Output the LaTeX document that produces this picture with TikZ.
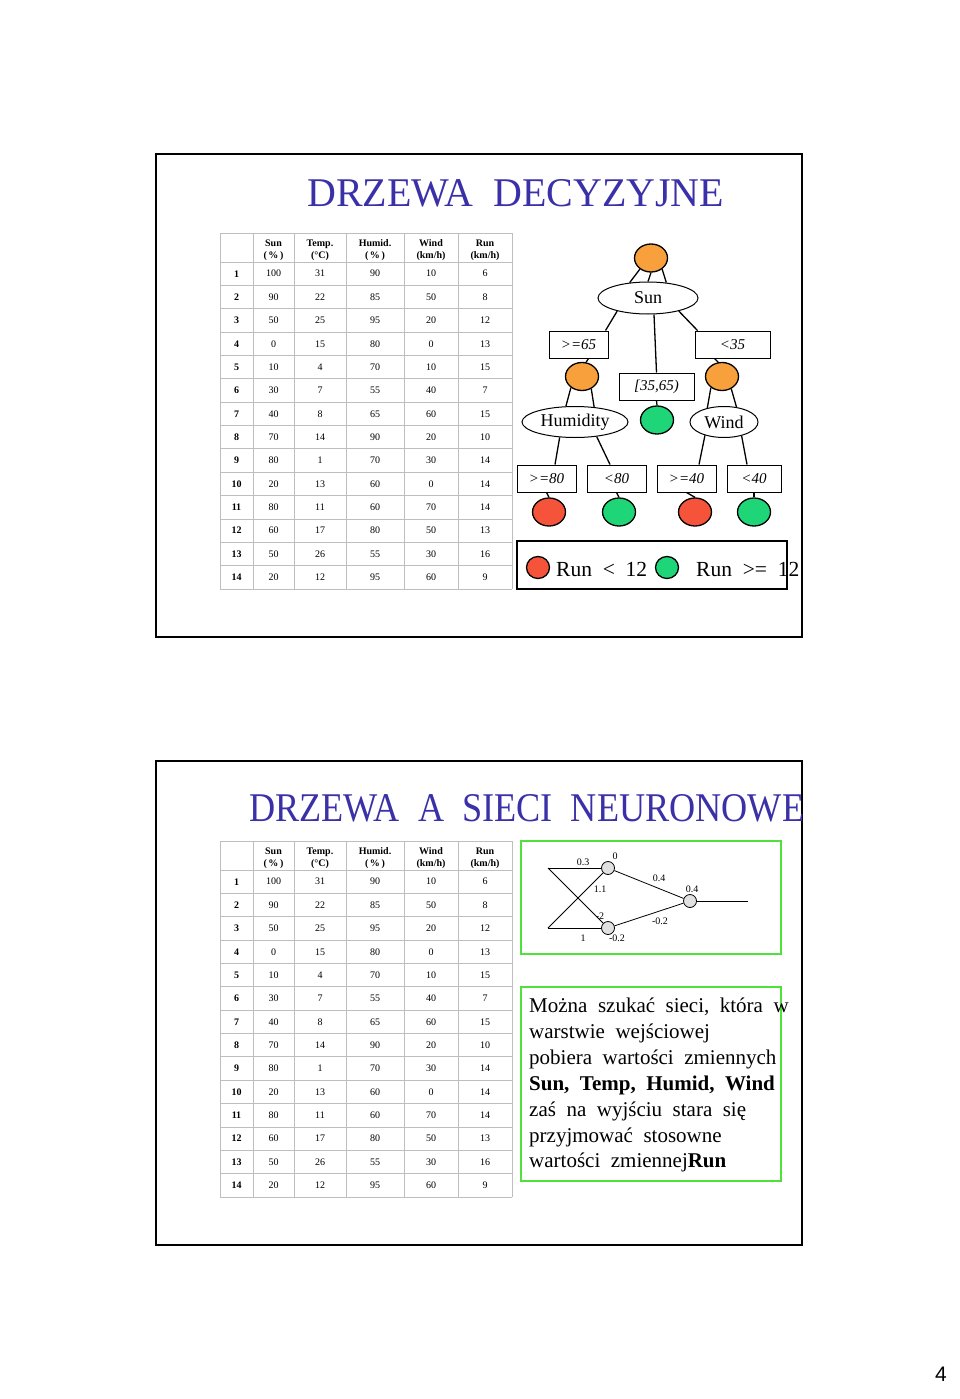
\documentclass[tikz,border=0pt]{standalone}
\usepackage{fontspec}
\setmainfont{Liberation Serif}
\newfontfamily\pagesans{Liberation Sans}
\usetikzlibrary{shapes.geometric}
\definecolor{titleblue}{RGB}{58,48,168}
\definecolor{treeorange}{RGB}{247,160,60}
\definecolor{treegreen}{RGB}{30,214,120}
\definecolor{treered}{RGB}{245,84,58}
\definecolor{boxgreen}{RGB}{80,225,60}
\definecolor{tablegray}{RGB}{190,190,190}
\definecolor{neurongray}{RGB}{225,225,225}
\newcommand\datatable[2]{%
  \draw[tline] (220,{233+#2}) -- (512,{233+#2});
  \foreach \k in {0,...,14} {\draw[tline] (220,{262+23.357*\k+#2}) -- (512,{262+23.357*\k+#2});}
  \foreach \xx in {220,253,294,346,404,458,512} {\draw[tline] (\xx,{233+#2}) -- (\xx,{589+#2});}
  \node[hdr] (#1hsun) at (273.5,{250+#2}) {Sun\\(\,\%\,)};
  \node[hdr] (#1htemp) at (320,{250+#2}) {Temp.\\(°C)};
  \node[hdr] (#1hhum) at (375,{250+#2}) {Humid.\\(\,\%\,)};
  \node[hdr] (#1hwind) at (431,{250+#2}) {Wind\\(km/h)};
  \node[hdr] (#1hrun) at (485,{250+#2}) {Run\\(km/h)};
  \foreach \r/\a/\b/\c/\d/\e in {1/100/31/90/10/6,2/90/22/85/50/8,3/50/25/95/20/12,4/0/15/80/0/13,5/10/4/70/10/15,6/30/7/55/40/7,7/40/8/65/60/15,8/70/14/90/20/10,9/80/1/70/30/14,10/20/13/60/0/14,11/80/11/60/70/14,12/60/17/80/50/13,13/50/26/55/30/16,14/20/12/95/60/9} {
    \pgfmathsetmacro\yy{273.7+23.357*(\r-1)+#2}
    \node[cell,font=\fontsize{10}{12}\selectfont\bfseries] (#1n\r) at (236.5,\yy) {\r};
    \node[cell] (#1a\r) at (273.5,\yy) {\a};
    \node[cell] (#1b\r) at (320,\yy) {\b};
    \node[cell] (#1c\r) at (375,\yy) {\c};
    \node[cell] (#1d\r) at (431,\yy) {\d};
    \node[cell] (#1e\r) at (485,\yy) {\e};
  }%
}
\begin{document}
\begin{tikzpicture}[x=1pt,y=-1pt,
  tline/.style={draw=tablegray,line width=0.8pt},
  hdr/.style={inner sep=0pt,align=center,font=\fontsize{10}{12}\selectfont\bfseries},
  cell/.style={inner sep=0pt,font=\fontsize{10}{12}\selectfont},
  frame/.style={draw=black,line width=2.2pt},
  blob/.style={ellipse,draw=black,line width=1.3pt,minimum width=33pt,minimum height=28pt,inner sep=0pt},
  orangec/.style={blob,fill=treeorange},
  greenc/.style={blob,fill=treegreen},
  redc/.style={blob,fill=treered},
  ell/.style={ellipse,draw=black,line width=1pt,fill=white,inner sep=0pt,font=\fontsize{18}{18}\selectfont},
  lbox/.style={rectangle,draw=black,line width=1pt,fill=white,inner sep=0pt,minimum height=27pt,font=\fontsize{15}{15}\selectfont\itshape},
  tl/.style={line width=1.3pt},
  neuron/.style={circle,draw=black,line width=0.8pt,fill=neurongray,minimum size=13pt,inner sep=0pt},
  nl/.style={line width=0.8pt},
  wlab/.style={inner sep=0pt,font=\fontsize{10}{12}\selectfont},
  gbox/.style={draw=boxgreen,line width=2.5pt},
  txt/.style={inner sep=0pt,anchor=base west,font=\fontsize{21}{26}\selectfont}
]
\useasboundingbox (0,0) rectangle (960,1399);
\fill[white] (0,0) rectangle (960,1399);

% ---------------- slide 1 ----------------
\draw[frame] (156,154) rectangle (802,637);
\node[inner sep=0pt,anchor=base west,text=titleblue] (title1) at (307,207)
  {\resizebox{417pt}{27pt}{\fontsize{41}{41}\selectfont DRZEWA\ \ DECYZYJNE}};
\datatable{ta}{0}

% tree
\node[orangec] (root) at (651,258) {};
\node[ell,minimum width=100pt,minimum height=32pt] (sun) at (648,298) {Sun};
\node[lbox,minimum width=59pt] (b65) at (578.5,344.5) {>=65};
\node[lbox,minimum width=75pt] (b3565) at (656.5,386.5) {[35,65)};
\node[lbox,minimum width=75pt] (b35) at (732.5,344.5) {<35};
\node[orangec] (o1) at (582,376.5) {};
\node[orangec] (o2) at (722,376.5) {};
\node[greenc] (g1) at (657,420) {};
\node[ell,minimum width=106pt,minimum height=31pt] (hum) at (575,422) {Humidity};
\node[ell,minimum width=68pt,minimum height=31pt] (wind) at (724,422) {Wind};
\node[lbox,minimum width=59pt] (b80) at (546.5,478.5) {>=80};
\node[lbox,minimum width=59pt] (bl80) at (616.5,478.5) {<80};
\node[lbox,minimum width=59pt] (b40) at (686.5,478.5) {>=40};
\node[lbox,minimum width=54pt] (bl40) at (754,478.5) {<40};
\node[redc] (r1) at (549,512) {};
\node[greenc] (g2) at (619,512) {};
\node[redc] (r2) at (695,512) {};
\node[greenc] (g3) at (754,512) {};

\draw[tl] (root.225) -- (sun.140);
\draw[tl] (root.south) -- (sun.north);
\draw[tl] (root.315) -- (sun.40);
\draw[tl] (sun.203) -- ([xshift=-3pt]b65.north east);
\draw[tl] ([xshift=6pt]sun.south) -- (b3565.north);
\draw[tl] (sun.337) -- ([xshift=3pt]b35.north west);
\draw[tl] ([xshift=10pt]b65.south) -- (o1.74);
\draw[tl] ([xshift=-18pt]b35.south) -- (o2.105);
\draw[tl] (b3565.south) -- (g1.north);
\draw[tl] (o1.225) -- (hum.120);
\draw[tl] (o1.307) -- (hum.38);
\draw[tl] (o2.225) -- (wind.140);
\draw[tl] (o2.307) -- (wind.50);
\draw[tl] (hum.225) -- ([xshift=8.5pt]b80.north);
\draw[tl] (hum.326) -- ([xshift=-6.5pt]bl80.north);
\draw[tl] (wind.215) -- ([xshift=12.5pt]b40.north);
\draw[tl] (wind.322) -- ([xshift=-7pt]bl40.north);
\draw[tl] (b80.south) -- (r1.north);
\draw[tl] (bl80.south) -- (g2.north);
\draw[tl] (b40.south) -- (r2.north);
\draw[tl] (bl40.south) -- (g3.north);

% legend
\node[draw=black,line width=1.3pt,minimum width=270pt,minimum height=48pt,inner sep=0pt] (legend) at (652,565) {};
\node[redc,minimum width=23pt,minimum height=22pt] (lred) at (538,567.5) {};
\node[greenc,minimum width=23pt,minimum height=22pt] (lgreen) at (667,567.5) {};
\node[inner sep=0pt,anchor=base west,font=\fontsize{21.5}{22}\selectfont] (lt1) at (556,576) {Run\ \ <\ \ 12};
\node[inner sep=0pt,anchor=base west,font=\fontsize{21.5}{22}\selectfont] (lt2) at (696,576) {Run\ \ >=\ \ 12};

% ---------------- slide 2 ----------------
\draw[frame] (156,761) rectangle (802,1245);
\node[inner sep=0pt,anchor=base west,text=titleblue] (title2) at (249,821)
  {\resizebox{555pt}{27pt}{\fontsize{41}{41}\selectfont DRZEWA\ \ A\ \ SIECI\ \ NEURONOWE}};
\datatable{tb}{608}

% network
\draw[gbox] (521,841) rectangle (781,954);
\coordinate (in1) at (548,868);
\coordinate (in2) at (548,928);
\node[neuron] (h1) at (608,868) {};
\node[neuron] (h2) at (608,928) {};
\node[neuron] (out) at (690,901) {};
\coordinate (outend) at (748,901);
\draw[nl] (in1) -- (h1);
\draw[nl] (in2) -- (h2);
\draw[nl] (in1) -- (h2);
\draw[nl] (in2) -- (h1);
\draw[nl] (h1) -- (out);
\draw[nl] (h2) -- (out);
\draw[nl] (out) -- (outend);
\node[wlab] (w03) at (583,862) {0.3};
\node[wlab] (w0) at (615,856) {0};
\node[wlab] (w11) at (600,889) {1.1};
\node[wlab] (w04a) at (659,878) {0.4};
\node[wlab] (w04b) at (692,889) {0.4};
\node[wlab] (wm2) at (600,916) {-2};
\node[wlab] (wm02a) at (660,921) {-0.2};
\node[wlab] (w1) at (583,938) {1};
\node[wlab] (wm02b) at (617,938) {-0.2};

% text box
\draw[gbox] (521,987) rectangle (781,1181);
\node[txt] (l1) at (529,1012) {Można\ \ szukać\ \ sieci,\ \ która\ \ w};
\node[txt] (l2) at (529,1038) {warstwie\ \ wejściowej};
\node[txt] (l3) at (529,1064) {pobiera\ \ wartości\ \ zmiennych};
\node[txt] (l4) at (529,1090) {\bfseries Sun,\ \ Temp,\ \ Humid,\ \ Wind};
\node[txt] (l5) at (529,1116) {zaś\ \ na\ \ wyjściu\ \ stara\ \ się};
\node[txt] (l6) at (529,1142) {przyjmować\ \ stosowne};
\node[txt] (l7) at (529,1167) {wartości\ \ zmiennej\textbf{Run}};

% page number
\node[inner sep=0pt,font=\pagesans\fontsize{21}{21}\selectfont] (pagenum) at (941,1374) {4};
\end{tikzpicture}
\end{document}
